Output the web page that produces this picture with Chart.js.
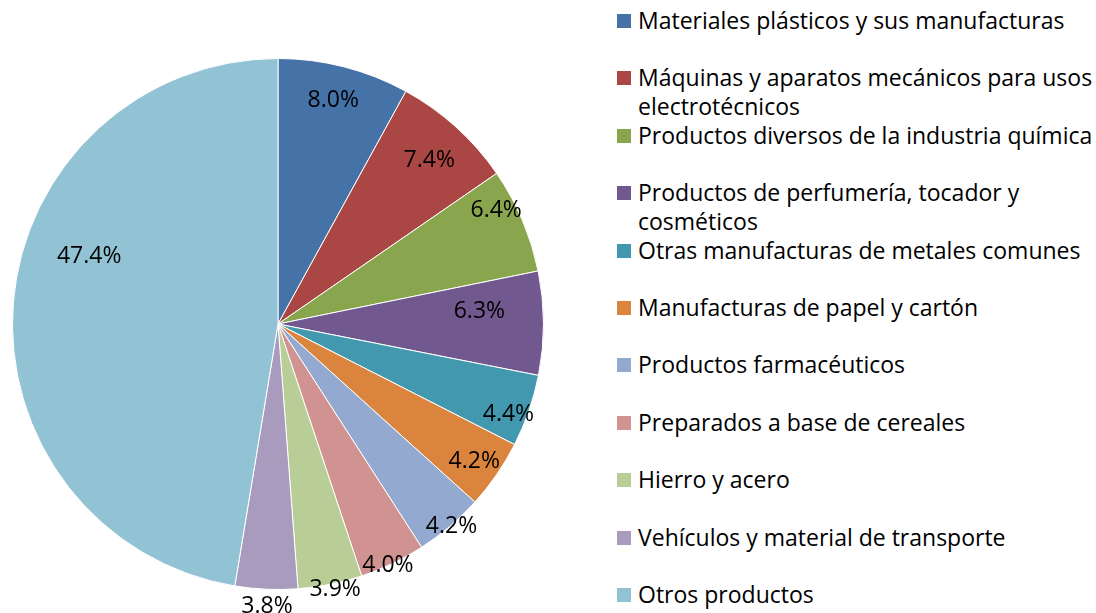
<!DOCTYPE html>
<html>
<head>
<meta charset="utf-8">
<script src="https://cdn.jsdelivr.net/npm/chart.js@4"></script>
<style>
  html, body { margin: 0; padding: 0; background: #fff; overflow: hidden; }
  body { width: 1096px; height: 613px; position: relative; font-family: "Open Sans", sans-serif; }
  #pieBox { position: absolute; left: 0; top: 30px; width: 556px; height: 588px; }
  #legend { position: absolute; left: 617px; top: 6px; width: 479px; }
  .item { position: relative; height: 57.4px; font-size: 23px; line-height: 28.5px; color: #000; white-space: normal; }
  .item .sw { position: absolute; left: 0; top: 8px; width: 14px; height: 14px; }
  .item .tx { position: absolute; left: 21px; top: 0; width: 460px; }
</style>
</head>
<body>
<div id="pieBox"><canvas id="grafico"></canvas></div>
<div id="legend"></div>
<script>
// datos
const categorias = [
  "Materiales plásticos y sus manufacturas",
  "Máquinas y aparatos mecánicos para usos electrotécnicos",
  "Productos diversos de la industria química",
  "Productos de perfumería, tocador y cosméticos",
  "Otras manufacturas de metales comunes",
  "Manufacturas de papel y cartón",
  "Productos farmacéuticos",
  "Preparados a base de cereales",
  "Hierro y acero",
  "Vehículos y material de transporte",
  "Otros productos"
];
const porcentajes = [8.0, 7.4, 6.4, 6.3, 4.4, 4.2, 4.2, 4.0, 3.9, 3.8, 47.4];
const colores = ["#4572A7", "#AA4643", "#89A54E", "#71588F", "#4198AF", "#DB843D",
                 "#93A9CF", "#D19392", "#B9CD96", "#A99BBD", "#92C3D4"];
// donde va cada etiqueta: distancia al centro (fraccion del radio) y giro en grados
const posEtiqueta = [0.867, 0.838, 0.926, 0.76, 0.932, 0.902, 1.004, 1.0, 1.023, 1.065, 0.755];
const giroEtiqueta = [-0.5, 0.7, -4.4, -3.5, 2.3, 0.4, -0.3, 1.1, -0.8, -0.3, 14.9];

// leyenda
const legend = document.getElementById("legend");
categorias.forEach((c, i) => {
  const div = document.createElement("div");
  div.className = "item";
  div.innerHTML = '<span class="sw" style="background:' + colores[i] + '"></span><span class="tx">' + c + '</span>';
  legend.appendChild(div);
});

const etiquetas = {
  id: "etiquetas",
  afterDatasetsDraw(chart) {
    const ctx = chart.ctx;
    const meta = chart.getDatasetMeta(0);
    ctx.save();
    ctx.font = '23px "Open Sans", sans-serif';
    ctx.fillStyle = "#000";
    ctx.textAlign = "center";
    ctx.textBaseline = "middle";
    meta.data.forEach((arc, i) => {
      const p = arc.getProps(["x", "y", "startAngle", "endAngle", "outerRadius"], true);
      const mid = (p.startAngle + p.endAngle) / 2 + giroEtiqueta[i] * Math.PI / 180;
      const r = p.outerRadius * posEtiqueta[i];
      ctx.fillText(porcentajes[i].toFixed(1) + "%", p.x + Math.cos(mid) * r, p.y + Math.sin(mid) * r);
    });
    ctx.restore();
  }
};

new Chart(document.getElementById("grafico"), {
  type: "pie",
  data: {
    labels: categorias,
    datasets: [{
      data: porcentajes,
      backgroundColor: colores,
      borderColor: "#fff",
      borderWidth: 1
    }]
  },
  options: {
    responsive: true,
    maintainAspectRatio: false,
    animation: false,
    layout: { padding: { left: 12, right: 12, top: 28, bottom: 28 } },
    plugins: {
      legend: { display: false },
      tooltip: { enabled: false }
    }
  },
  plugins: [etiquetas]
});
</script>
</body>
</html>
